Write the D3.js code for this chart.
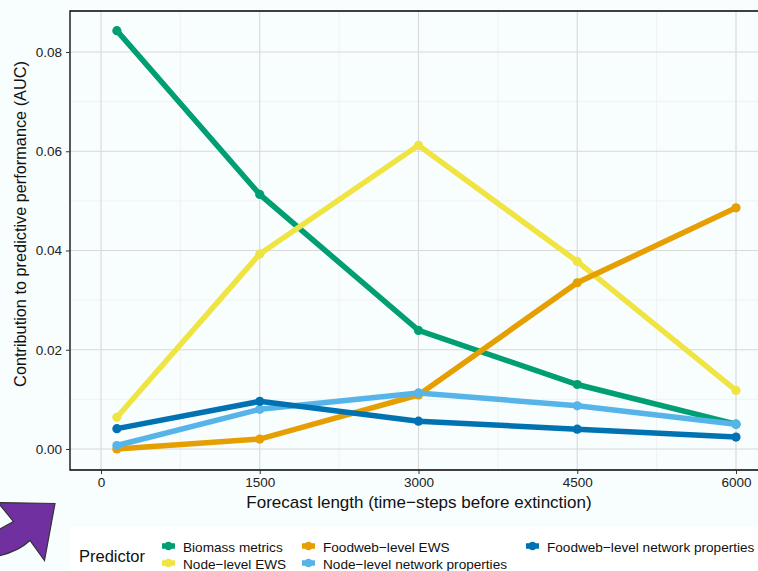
<!DOCTYPE html>
<html>
<head>
<meta charset="utf-8">
<script src="https://cdn.jsdelivr.net/npm/d3@7"></script>
<style>
  body { margin: 0; background: #f8fdfd; }
  svg { display: block; font-family: "Liberation Sans", Arial, sans-serif; }
</style>
</head>
<body>
<svg id="chart" width="758" height="571"></svg>
<script>
// forecast lengths (time-steps before extinction)
const forecast = [150, 1500, 3000, 4500, 6000];

const biomass = [0.0843, 0.0513, 0.0239, 0.0130, 0.0050];
const nodeEWS = [0.0064, 0.0393, 0.0612, 0.0378, 0.0118];
const foodwebEWS = [0.0000, 0.0020, 0.0109, 0.0335, 0.0486];
const nodeNetwork = [0.0007, 0.0080, 0.0113, 0.0087, 0.0050];
const foodwebNetwork = [0.0041, 0.0096, 0.0056, 0.0040, 0.0024];

const xTicks = [0, 1500, 3000, 4500, 6000];
const yTicks = [0, 0.02, 0.04, 0.06, 0.08];

// drawing order follows the picture (last one on top)
const series = [
    { name: "Biomass metrics", values: biomass, color: "#009E73" },
    { name: "Node-level EWS", values: nodeEWS, color: "#F0E442" },
    { name: "Foodweb-level EWS", values: foodwebEWS, color: "#E69F00" },
    { name: "Node-level network properties", values: nodeNetwork, color: "#56B4E9" },
    { name: "Foodweb-level network properties", values: foodwebNetwork, color: "#0072B2" }
];

const svg = d3.select("#chart");
const W = +svg.attr("width");

const pLeft = 70, pTop = 11, pBottom = 470;

const x = d3.scaleLinear().domain([0, 6000]).range([101, 736]);
const y = d3.scaleLinear().domain([0, 0.08]).range([449, 52]);

// background
svg.append("rect").attr("width", W).attr("height", 571).attr("fill", "#f8fdfd");

// grid
const grid = svg.append("g");
const xMinor = [750, 2250, 3750, 5250, 6750];
const yMinor = [0.01, 0.03, 0.05, 0.07];
grid.selectAll(".xmin").data(xMinor).enter().append("line")
    .attr("x1", d => x(d)).attr("x2", d => x(d)).attr("y1", pTop).attr("y2", pBottom)
    .attr("stroke", "#ebebeb").attr("stroke-width", 0.6);
grid.selectAll(".ymin").data(yMinor).enter().append("line")
    .attr("x1", pLeft).attr("x2", W).attr("y1", d => y(d)).attr("y2", d => y(d))
    .attr("stroke", "#ebebeb").attr("stroke-width", 0.6);
grid.selectAll(".xmaj").data(xTicks).enter().append("line")
    .attr("x1", d => x(d)).attr("x2", d => x(d)).attr("y1", pTop).attr("y2", pBottom)
    .attr("stroke", "#d9d9d9").attr("stroke-width", 1.1);
grid.selectAll(".ymaj").data(yTicks).enter().append("line")
    .attr("x1", pLeft).attr("x2", W).attr("y1", d => y(d)).attr("y2", d => y(d))
    .attr("stroke", "#d9d9d9").attr("stroke-width", 1.1);

// lines and points
const line = d3.line().x((d, i) => x(forecast[i])).y(d => y(d));
series.forEach(s => {
    const g = svg.append("g");
    g.append("path").datum(s.values).attr("d", line)
        .attr("fill", "none").attr("stroke", s.color).attr("stroke-width", 5.5);
    g.selectAll("circle").data(s.values).enter().append("circle")
        .attr("cx", (d, i) => x(forecast[i])).attr("cy", d => y(d))
        .attr("r", 4.6).attr("fill", s.color);
});

// panel border (left, top, bottom)
svg.append("path")
    .attr("d", `M${W + 5},${pTop}H${pLeft}V${pBottom}H${W + 5}`)
    .attr("fill", "none").attr("stroke", "#000").attr("stroke-width", 1.3);

// axes
const xAxis = svg.append("g").attr("transform", `translate(0,${pBottom})`)
    .call(d3.axisBottom(x).tickValues(xTicks).tickFormat(d3.format("d")).tickSize(4).tickSizeOuter(0).tickPadding(3));
const yAxis = svg.append("g").attr("transform", `translate(${pLeft},0)`)
    .call(d3.axisLeft(y).tickValues(yTicks).tickFormat(d3.format(".2f")).tickSize(4).tickSizeOuter(0).tickPadding(4));
[xAxis, yAxis].forEach(a => {
    a.select(".domain").remove();
    a.selectAll(".tick line").attr("stroke", "#333");
    a.selectAll("text").attr("font-size", 13.5).attr("fill", "#222")
        .attr("font-family", "'Liberation Sans', Arial, sans-serif");
});

svg.append("text").attr("x", 419).attr("y", 508).attr("text-anchor", "middle")
    .attr("font-size", 17).attr("fill", "#111").text("Forecast length (time\u2212steps before extinction)");
svg.append("text").attr("transform", "translate(26,224) rotate(-90)").attr("text-anchor", "middle")
    .attr("font-size", 16.3).attr("fill", "#111").text("Contribution to predictive performance (AUC)");

// legend
svg.append("rect").attr("x", 70).attr("y", 527).attr("width", W - 70).attr("height", 44).attr("fill", "#fff");
svg.append("text").attr("x", 79).attr("y", 562).attr("font-size", 16.5).attr("fill", "#111").text("Predictor");

const legendPos = {
    "Biomass metrics": [160, 547],
    "Foodweb-level EWS": [300, 547],
    "Foodweb-level network properties": [524, 547],
    "Node-level EWS": [160, 564],
    "Node-level network properties": [300, 564]
};
series.forEach(s => {
    const [lx, ly] = legendPos[s.name];
    const k = svg.append("g");
    k.append("line").attr("x1", lx + 2).attr("x2", lx + 15).attr("y1", ly - 1).attr("y2", ly - 1)
        .attr("stroke", s.color).attr("stroke-width", 5.5);
    k.append("circle").attr("cx", lx + 8.5).attr("cy", ly - 1).attr("r", 4.2).attr("fill", s.color);
    svg.append("text").attr("x", lx + 23).attr("y", ly + 4.5).attr("font-size", 13.6).attr("fill", "#111")
        .text(s.name.replace(/-/g, "\u2212"));
});

// purple arrow in the corner
svg.append("path")
    .attr("d", "M-2,502.5 L55,503.5 L44.5,560.5 L30,540.5 C22,548 12,553 -2,556 L-2,530 L13.5,521.5 Z")
    .attr("fill", "#7030a0").attr("stroke", "#333").attr("stroke-width", 1.2);
</script>
</body>
</html>
